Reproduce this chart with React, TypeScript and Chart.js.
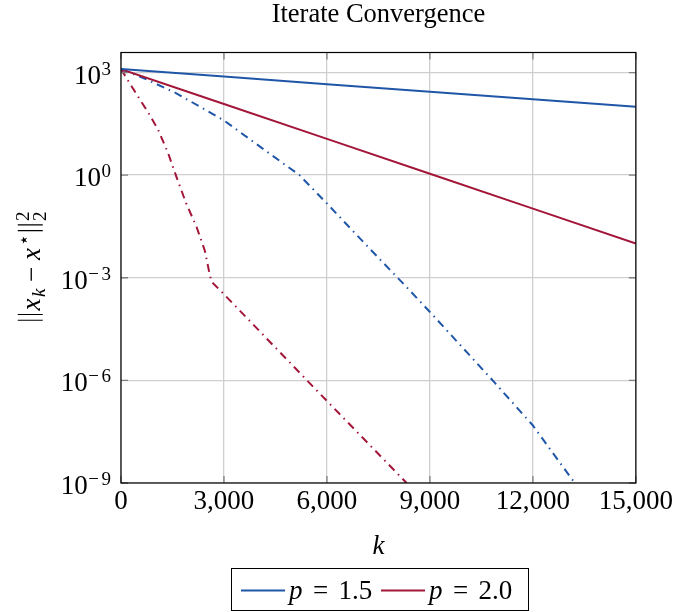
import React, { useEffect, useRef } from "react";
import { Chart, registerables } from "chart.js";

Chart.register(...registerables);

// ---- data ----
const xTickValues = [0, 3000, 6000, 9000, 12000, 15000];
const yTickExponents = [-9, -6, -3, 0, 3];

const kP15 = [0, 3000, 6000, 9000, 12000, 15000];
const errP15 = [1260, 760, 457, 275, 166, 100];

const kP20 = [0, 3000, 6000, 9000, 12000, 15000];
const errP20 = [1260, 120, 11.5, 1.1, 0.105, 0.01];

const kP15Acc = [0, 650, 1600, 3000, 4000, 5200, 6000, 7200, 8300, 9000, 10900, 12000, 13100, 13220];
const errP15Acc = [1260, 692, 251, 39.8, 7.4, 1.0, 0.148, 7.9e-3, 5.6e-4, 1e-4, 8.3e-7, 4.8e-8, 1.45e-9, 1e-9];

const kP20Acc = [0, 400, 800, 1080, 1370, 1615, 1900, 2200, 2440, 2580, 2640, 2970, 5580, 8320];
const errP20Acc = [1260, 282, 66, 21.4, 4.47, 0.89, 0.148, 0.031, 6.3e-3, 1.32e-3, 7.6e-4, 3.55e-4, 6.8e-7, 1e-9];

const legendValues = ["1.5", "2.0"];
const chartTitle = "Iterate Convergence";
const xAxisTitle = "k";

const BLUE = "#1f56a8";
const RED = "#a3163a";
const GRID = "#cfcfcf";
const SERIF = '"Liberation Serif", "DejaVu Serif", serif';
const EM = 27;
const SUB = 19;

type Piece = { t?: string; f?: string; dy?: number; gap?: number; stack?: boolean; bars?: boolean };

function pieceWidth(ctx: CanvasRenderingContext2D, p: Piece) {
  if (p.gap) return p.gap;
  if (p.bars) return 0.5 * EM;
  ctx.font = p.f!;
  return ctx.measureText(p.t!).width;
}

function drawRich(ctx: CanvasRenderingContext2D, pieces: Piece[], x: number, y: number) {
  let w = 0;
  for (const p of pieces) if (!p.stack) w += pieceWidth(ctx, p);
  let cx = x - w / 2;
  ctx.textAlign = "left";
  ctx.textBaseline = "alphabetic";
  for (const p of pieces) {
    if (p.gap) { cx += p.gap; continue; }
    if (p.bars) {
      ctx.save();
      ctx.strokeStyle = "#000";
      ctx.lineWidth = 1.1;
      ctx.beginPath();
      for (const off of [3.8, 9.6]) {
        ctx.moveTo(cx + off, y + 0.25 * EM - 4);
        ctx.lineTo(cx + off, y - 0.75 * EM - 2);
      }
      ctx.stroke();
      ctx.restore();
      cx += 0.5 * EM;
      continue;
    }
    ctx.font = p.f!;
    ctx.fillText(p.t!, cx, y + (p.dy || 0));
    if (!p.stack) cx += ctx.measureText(p.t!).width;
  }
}

const norm = (s: number) => `${s}px ${SERIF}`;
const ital = (s: number) => `italic ${s}px ${SERIF}`;

const decoPlugin = {
  id: "deco",
  afterDraw(chart: any) {
    const ctx: CanvasRenderingContext2D = chart.ctx;
    const { left, right, top, bottom } = chart.chartArea;
    const xs = chart.scales.x;
    const ys = chart.scales.y;
    ctx.save();

    // inner tick marks
    ctx.strokeStyle = "#808080";
    ctx.lineWidth = 1.3;
    ctx.beginPath();
    for (const v of xTickValues) {
      const px = xs.getPixelForValue(v);
      ctx.moveTo(px, bottom); ctx.lineTo(px, bottom - 7);
      ctx.moveTo(px, top); ctx.lineTo(px, top + 7);
    }
    for (const e of yTickExponents) {
      const py = ys.getPixelForValue(Math.pow(10, e));
      ctx.moveTo(left, py); ctx.lineTo(left + 7, py);
      ctx.moveTo(right, py); ctx.lineTo(right - 7, py);
    }
    ctx.stroke();

    // frame
    ctx.strokeStyle = "#000";
    ctx.lineWidth = 1.2;
    ctx.strokeRect(left, top, right - left, bottom - top);

    ctx.fillStyle = "#000";
    // y tick labels 10^e
    for (const e of yTickExponents) {
      const py = ys.getPixelForValue(Math.pow(10, e));
      ctx.font = norm(SUB);
      ctx.textBaseline = "alphabetic";
      ctx.textAlign = "left";
      const digits = String(Math.abs(e));
      const dw = ctx.measureText(digits).width;
      let exX = left - 10 - dw;
      ctx.fillText(digits, exX, py + 2);
      if (e < 0) {
        const mw = ctx.measureText("\u2212").width;
        exX -= mw + 2.5;
        ctx.fillText("\u2212", exX, py + 2);
      }
      ctx.font = norm(EM);
      ctx.textAlign = "right";
      ctx.fillText("10", exX - 0.5, py + 11);
    }

    // title
    ctx.font = `26.5px ${SERIF}`;
    ctx.textAlign = "center";
    ctx.textBaseline = "alphabetic";
    ctx.fillText(chartTitle, (left + right) / 2, 22);

    // x axis title
    ctx.font = ital(EM);
    ctx.fillText(xAxisTitle, (left + right) / 2, 554);

    // y axis title ||x_k - x*||_2^2
    ctx.save();
    ctx.translate(40, (top + bottom) / 2);
    ctx.rotate(-Math.PI / 2);
    drawRich(ctx, [
      { bars: true },
      { t: "x", f: ital(EM) },
      { gap: 1.5 },
      { t: "k", f: ital(SUB), dy: 5 },
      { gap: 0.25 * EM },
      { t: "\u2212", f: norm(EM) },
      { gap: 0.25 * EM },
      { t: "x", f: ital(EM) },
      { gap: 1.5 },
      { t: "\u22c6", f: norm(SUB), dy: -10 },
      { bars: true },
      { t: "2", f: norm(SUB), dy: -11, stack: true },
      { t: "2", f: norm(SUB), dy: 6 },
    ], 0, 0);
    ctx.restore();

    // legend
    ctx.strokeStyle = "#000";
    ctx.lineWidth = 1;
    ctx.strokeRect(231.5, 568.5, 297, 42);
    const items = [
      { color: BLUE, x0: 241, val: legendValues[0] },
      { color: RED, x0: 381, val: legendValues[1] },
    ];
    for (const it of items) {
      ctx.strokeStyle = it.color;
      ctx.lineWidth = 2;
      ctx.beginPath();
      ctx.moveTo(it.x0, 590.5);
      ctx.lineTo(it.x0 + 44, 590.5);
      ctx.stroke();
      const sx = it.x0 + 48;
      ctx.textBaseline = "alphabetic";
      ctx.textAlign = "left";
      ctx.font = ital(EM);
      ctx.fillText("p", sx, 599);
      ctx.font = norm(EM);
      ctx.textAlign = "center";
      ctx.fillText("=", sx + (0.503 + 0.278 + 0.389) * EM, 599);
      ctx.textAlign = "left";
      ctx.fillText(it.val, sx + (0.503 + 0.278 + 0.778 + 0.278) * EM, 599);
    }
    ctx.restore();
  },
};

const toPts = (ks: number[], vs: number[]) => ks.map((k, i) => ({ x: k, y: vs[i] }));
const DASHDOT = [8, 5, 1.5, 5];

export default function App() {
  const ref = useRef<HTMLCanvasElement | null>(null);
  useEffect(() => {
    document.body.style.margin = "0";
    const canvas = ref.current!;
    const chart = new Chart(canvas, {
      type: "line",
      data: {
        datasets: [
          { label: "p = 1.5", data: toPts(kP15, errP15), borderColor: BLUE, borderWidth: 2, pointRadius: 0, fill: false, tension: 0 },
          { label: "p = 2.0", data: toPts(kP20, errP20), borderColor: RED, borderWidth: 2, pointRadius: 0, fill: false, tension: 0 },
          { label: "p = 1.5 (dash-dot)", data: toPts(kP15Acc, errP15Acc), borderColor: BLUE, borderWidth: 2, borderDash: DASHDOT, pointRadius: 0, fill: false, tension: 0 },
          { label: "p = 2.0 (dash-dot)", data: toPts(kP20Acc, errP20Acc), borderColor: RED, borderWidth: 2, borderDash: DASHDOT, pointRadius: 0, fill: false, tension: 0 },
        ],
      } as any,
      options: {
        responsive: false,
        animation: false,
        events: [],
        layout: { padding: { top: 52.5, right: 38, bottom: 0, left: 0 } },
        plugins: {
          legend: { display: false },
          title: { display: false },
          tooltip: { enabled: false },
        },
        scales: {
          x: {
            type: "linear",
            min: 0,
            max: 15000,
            afterBuildTicks: (s: any) => { s.ticks = xTickValues.map((v) => ({ value: v })); },
            afterFit: (s: any) => { s.height = 129; },
            grid: { color: GRID, lineWidth: 1.3, drawTicks: false },
            border: { display: false },
            ticks: {
              padding: 3,
              color: "#000",
              font: { family: SERIF, size: EM },
              maxRotation: 0,
              autoSkip: false,
              callback: (v: any) => Number(v).toLocaleString("en-US"),
            },
          },
          y: {
            type: "logarithmic",
            min: 1e-9,
            max: 3850,
            afterBuildTicks: (s: any) => { s.ticks = yTickExponents.map((e) => ({ value: Math.pow(10, e) })); },
            afterFit: (s: any) => { s.width = 121; },
            grid: { color: GRID, lineWidth: 1.3, drawTicks: false },
            border: { display: false },
            ticks: { display: false },
          },
        },
      } as any,
      plugins: [decoPlugin],
    });
    return () => chart.destroy();
  }, []);
  return <canvas ref={ref} width={676} height={612} style={{ display: "block" }} />;
}
